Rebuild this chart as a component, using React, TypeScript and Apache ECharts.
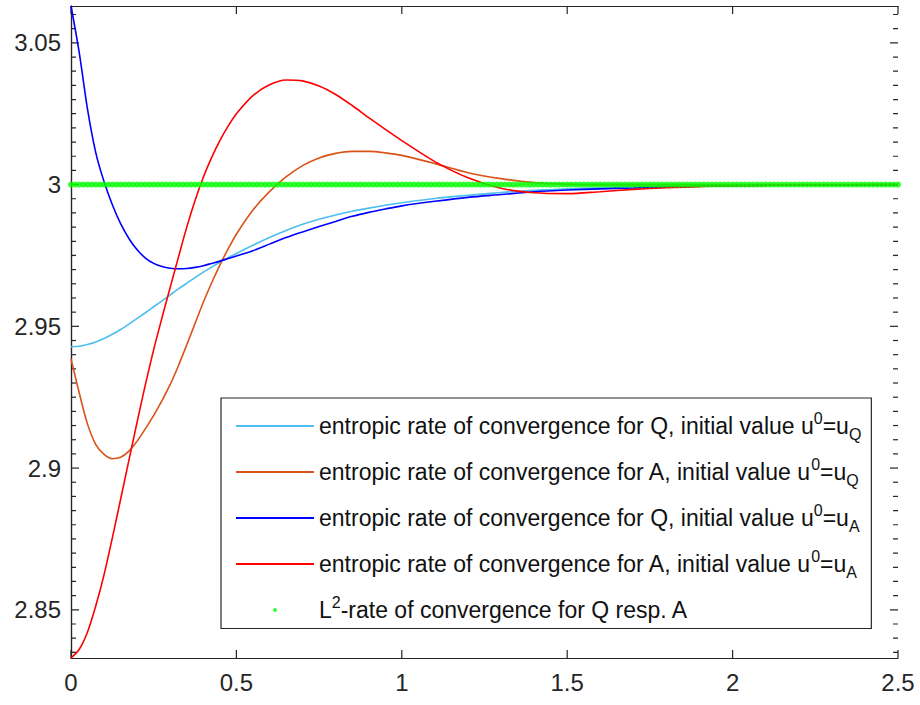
import React, { useEffect, useRef } from "react";
import * as echarts from "echarts";

// ---------- data ----------
const xGrid = [
  0, 0.025, 0.05, 0.075, 0.1, 0.125, 0.15, 0.175, 0.2, 0.225, 0.25, 0.275, 0.3,
  0.325, 0.35, 0.375, 0.4, 0.425, 0.45, 0.475, 0.5, 0.55, 0.6, 0.65, 0.7, 0.75,
  0.8, 0.85, 0.9, 0.95, 1.0, 1.1, 1.2, 1.3, 1.4, 1.5, 1.6, 1.7, 1.8, 1.9, 2.0,
  2.25, 2.5,
];

// entropic rate for Q, initial value u0 = uQ (light blue)
const rateQ_uQ = [
  2.9428, 2.943, 2.9436, 2.9445, 2.9457, 2.9472, 2.9489, 2.9508, 2.9528, 2.9548,
  2.9569, 2.959, 2.9611, 2.9632, 2.9652, 2.9672, 2.9691, 2.9709, 2.9726, 2.9742,
  2.9757, 2.9786, 2.9813, 2.9838, 2.986, 2.9878, 2.9893, 2.9906, 2.9917, 2.9927,
  2.9936, 2.9951, 2.9962, 2.9972, 2.998, 2.9985, 2.9989, 2.9992, 2.9994, 2.9996,
  2.9997, 2.9999, 3.0,
];

// entropic rate for A, initial value u0 = uQ (orange)
const rateA_uQ = [
  2.9385, 2.9265, 2.9155, 2.9083, 2.9048, 2.9033, 2.9038, 2.906, 2.9095, 2.9139,
  2.9186, 2.9238, 2.9295, 2.9362, 2.9435, 2.951, 2.9585, 2.9653, 2.9716, 2.9773,
  2.9825, 2.991, 2.9975, 3.0027, 3.0067, 3.0094, 3.011, 3.0117, 3.0117, 3.0112,
  3.0103, 3.0074, 3.0042, 3.0021, 3.0007, 3.0001, 2.9999, 2.9999, 2.9999, 3.0,
  3.0, 3.0, 3.0,
];

// entropic rate for Q, initial value u0 = uA (blue)
const rateQ_uA = [
  3.063, 3.0465, 3.0265, 3.0112, 3.001, 2.9929, 2.9862, 2.981, 2.977, 2.9741,
  2.9722, 2.9711, 2.9705, 2.9703, 2.9704, 2.9708, 2.9714, 2.9722, 2.973, 2.9739,
  2.9748, 2.9767, 2.979, 2.9813, 2.9833, 2.9852, 2.987, 2.9888, 2.9902, 2.9914,
  2.9925, 2.9941, 2.9955, 2.9965, 2.9975, 2.9981, 2.9985, 2.9988, 2.9991, 2.9994,
  2.9996, 2.9999, 3.0,
];

// entropic rate for A, initial value u0 = uA (red)
const rateA_uA = [
  2.833, 2.8361, 2.8422, 2.8514, 2.8624, 2.8754, 2.889, 2.9027, 2.9163, 2.9295,
  2.9418, 2.953, 2.9638, 2.9745, 2.985, 2.9944, 3.0026, 3.0095, 3.0155, 3.0206,
  3.025, 3.0314, 3.0352, 3.0369, 3.0366, 3.0348, 3.0318, 3.0279, 3.0236, 3.0195,
  3.0155, 3.0081, 3.0024, 2.9987, 2.9971, 2.9968, 2.9975, 2.9983, 2.9989, 2.9993,
  2.9996, 2.9999, 3.0,
];

// L2-rate of convergence (constant), sampled along the x range
const l2Rate = 3;
const l2Step = 0.0125;
const l2Count = 201;

const seriesNames = [
  "entropic rate of convergence for Q, initial value u0=uQ",
  "entropic rate of convergence for A, initial value u0=uQ",
  "entropic rate of convergence for Q, initial value u0=uA",
  "entropic rate of convergence for A, initial value u0=uA",
  "L2-rate of convergence for Q resp. A",
];
const legendRichText = [
  "{t|entropic rate of convergence for Q, initial value u}{sup|0}{t|=u}{sub|Q}",
  "{t|entropic rate of convergence for A, initial value u}{sup|0}{t|=u}{sub|Q}",
  "{t|entropic rate of convergence for Q, initial value u}{sup|0}{t|=u}{sub|A}",
  "{t|entropic rate of convergence for A, initial value u}{sup|0}{t|=u}{sub|A}",
  "{t|L}{sup|2}{t|-rate of convergence for Q resp. A}",
];
const seriesColors = ["#4DBEEE", "#D95319", "#0000FF", "#FF0000", "#00FF00"];

const xMin = 0;
const xMax = 2.5;
const xTicks = [0, 0.5, 1, 1.5, 2, 2.5];
const yMajorTicks = [2.85, 2.9, 2.95, 3, 3.05];
const yMinorStep = 0.005;
const yMin = 2.833;
const yMax = 3.063;

const FONT = "'Liberation Sans', Arial, Helvetica, sans-serif";
const AXIS_COLOR = "#262626";
const TEXT_COLOR = "#111111";

// chart geometry (pixels)
const CHART_W = 920;
const CHART_H = 705;
const GRID = { left: 71, right: 22, top: 6, bottom: 47 };
const MAJOR_LEN_PX = 8;
const MINOR_LEN_PX = 5;

export default function App() {
  const ref = useRef<HTMLDivElement>(null);

  useEffect(() => {
    document.body.style.margin = "0";
    if (!ref.current) return;
    const chart = echarts.init(ref.current, null, { renderer: "svg" });

    // tick lengths expressed in axis units
    const pxPerX = (CHART_W - GRID.left - GRID.right) / (xMax - xMin);
    const pxPerY = (CHART_H - GRID.top - GRID.bottom) / (yMax - yMin);

    const tickSeries: any[] = [];
    const tickBase = {
      type: "line",
      symbol: "none",
      showSymbol: false,
      silent: true,
      animation: false,
      z: 1,
      lineStyle: { color: AXIS_COLOR, width: 1.2 },
      itemStyle: { color: AXIS_COLOR },
      emphasis: { disabled: true },
      tooltip: { show: false },
    };

    const kStart = Math.ceil(yMin / yMinorStep - 1e-9);
    const kEnd = Math.floor(yMax / yMinorStep + 1e-9);
    for (let k = kStart; k <= kEnd; k++) {
      const v = Math.round(k * yMinorStep * 1000) / 1000;
      const major = yMajorTicks.some((m) => Math.abs(m - v) < 1e-9);
      const dx = (major ? MAJOR_LEN_PX : MINOR_LEN_PX) / pxPerX;
      tickSeries.push({ ...tickBase, data: [[xMin, v], [xMin + dx, v]] });
      tickSeries.push({ ...tickBase, data: [[xMax, v], [xMax - dx, v]] });
    }
    const dy = MAJOR_LEN_PX / pxPerY;
    xTicks.forEach((v) => {
      tickSeries.push({ ...tickBase, data: [[v, yMin], [v, yMin + dy]] });
      tickSeries.push({ ...tickBase, data: [[v, yMax], [v, yMax - dy]] });
    });

    const curves = [rateQ_uQ, rateA_uQ, rateQ_uA, rateA_uA];
    const lineSeries = curves.map((vals, i) => ({
      name: seriesNames[i],
      type: "line",
      data: xGrid.map((x, j) => [x, vals[j]]),
      symbol: "none",
      showSymbol: false,
      smooth: 0.3,
      lineStyle: { color: seriesColors[i], width: 1.6 },
      itemStyle: { color: seriesColors[i] },
      z: 2 + i,
    }));

    const l2Data: number[][] = [];
    for (let k = 0; k < l2Count; k++) l2Data.push([Math.round(k * l2Step * 10000) / 10000, l2Rate]);

    const axisLineStyle = { color: AXIS_COLOR, width: 1.2 };

    chart.setOption({
      animation: false,
      backgroundColor: "#ffffff",
      grid: { left: GRID.left, right: GRID.right, top: GRID.top, bottom: GRID.bottom },
      xAxis: [
        {
          type: "value",
          min: xMin,
          max: xMax,
          interval: 0.5,
          axisLine: { show: true, lineStyle: axisLineStyle },
          axisTick: { show: false },
          axisLabel: { fontSize: 24, fontFamily: FONT, color: AXIS_COLOR, margin: 12 },
          splitLine: { show: false },
        },
        {
          type: "value",
          min: xMin,
          max: xMax,
          interval: 0.5,
          position: "top",
          axisLine: { show: true, lineStyle: axisLineStyle },
          axisTick: { show: false },
          axisLabel: { show: false },
          splitLine: { show: false },
        },
      ],
      yAxis: [
        {
          type: "value",
          min: yMin,
          max: yMax,
          axisLine: { show: true, lineStyle: axisLineStyle },
          axisTick: { show: false },
          axisLabel: {
            customValues: yMajorTicks,
            fontSize: 24,
            fontFamily: FONT,
            color: AXIS_COLOR,
            margin: 10,
          },
          splitLine: { show: false },
        },
        {
          type: "value",
          min: yMin,
          max: yMax,
          position: "right",
          axisLine: { show: true, lineStyle: axisLineStyle },
          axisTick: { show: false },
          axisLabel: { show: false },
          splitLine: { show: false },
        },
      ],
      legend: {
        show: true,
        orient: "vertical",
        left: 221,
        top: 398,
        padding: [12, 10, 7, 14],
        itemWidth: 78,
        itemHeight: 4,
        itemGap: 14,
        borderColor: AXIS_COLOR,
        borderWidth: 1.2,
        backgroundColor: "#ffffff",
        selectedMode: false,
        data: seriesNames.map((n, i) =>
          i < 4 ? { name: n, itemStyle: { color: "rgba(0,0,0,0)", borderWidth: 0 } } : { name: n }
        ),
        formatter: (name: string) => legendRichText[seriesNames.indexOf(name)],
        textStyle: {
          fontFamily: FONT,
          color: TEXT_COLOR,
          rich: {
            t: { fontSize: 23, lineHeight: 32, fontFamily: FONT, color: TEXT_COLOR },
            sup: { fontSize: 16, lineHeight: 15, verticalAlign: "top", fontFamily: FONT, color: TEXT_COLOR },
            sub: { fontSize: 16, lineHeight: 15, verticalAlign: "bottom", fontFamily: FONT, color: TEXT_COLOR },
          },
        },
      },
      series: [
        ...tickSeries,
        ...lineSeries,
        {
          name: seriesNames[4],
          type: "scatter",
          data: l2Data,
          symbol: "circle",
          symbolSize: 6,
          itemStyle: { color: seriesColors[4] },
          z: 10,
        },
      ],
    });

    return () => chart.dispose();
  }, []);

  return <div ref={ref} style={{ width: CHART_W, height: CHART_H }} />;
}
